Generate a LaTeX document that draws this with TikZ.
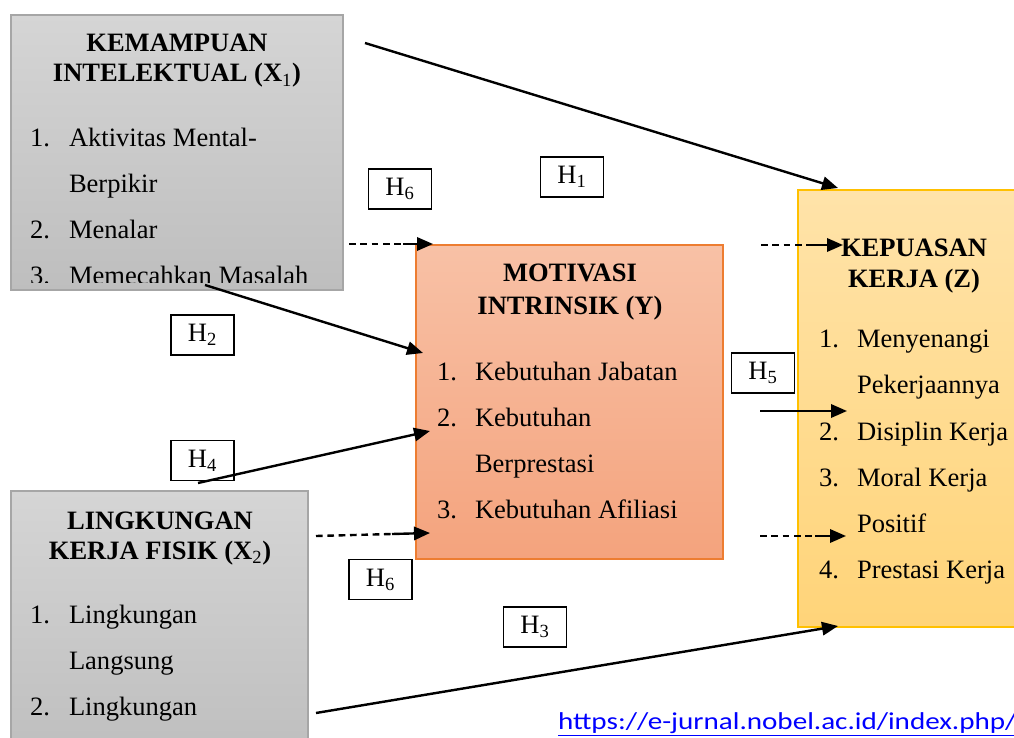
\documentclass[tikz,border=0pt]{standalone}
\usepackage{fontspec}
\setmainfont{Liberation Serif}
\newfontfamily\urlfont{Carlito}
\usetikzlibrary{arrows.meta}
\definecolor{grayT}{HTML}{D5D5D5}
\definecolor{grayB}{HTML}{BEBEBE}
\definecolor{grayE}{HTML}{A6A6A6}
\definecolor{orT}{HTML}{F8C1A6}
\definecolor{orB}{HTML}{F4A37D}
\definecolor{orE}{HTML}{ED7D31}
\definecolor{yeT}{HTML}{FFE3A9}
\definecolor{yeB}{HTML}{FFD479}
\definecolor{yeE}{HTML}{FFC000}
\definecolor{urlblue}{HTML}{0000FF}
\newcommand{\mainsize}{\fontsize{19.9}{24}\selectfont}
\begin{document}
\begin{tikzpicture}[x=0.75pt,y=-0.75pt,
  every node/.style={inner sep=0pt, outer sep=0pt},
  txt/.style={anchor=base west, font=\mainsize},
  ttl/.style={anchor=base, font=\mainsize\bfseries},
  panel/.style={anchor=north west, line width=0.8pt},
  graypanel/.style={panel, draw=grayE, top color=grayT, bottom color=grayB},
  orpanel/.style={panel, draw=orE, top color=orT, bottom color=orB},
  yepanel/.style={panel, draw=yeE, top color=yeT, bottom color=yeB},
  hbox/.style={draw=black, line width=1.1pt, fill=white, minimum width=47pt, minimum height=30pt, font=\mainsize},
  arr/.style={line width=1.8pt, -{Triangle[length=12pt,width=10pt]}},
  dsh/.style={line width=1.8pt, dash pattern=on 5pt off 3.5pt},
]
\useasboundingbox (0,0) rectangle (1014,738);
\clip (0,0) rectangle (1014,738);

% panels
\node[graypanel, minimum width=249pt, minimum height=206.25pt] (X1) at (11,15) {};
\node[orpanel, minimum width=230.25pt, minimum height=235.5pt] (Y) at (416,245) {};
\node[yepanel, minimum width=180pt, minimum height=327.75pt] (Z) at (798,190) {};
\node[graypanel, minimum width=222.75pt, minimum height=201.75pt] (X2) at (11,491) {};

% X1 text (clipped by the text area of its panel)
\begin{scope}
\clip (X1.north west) rectangle (343,282);
\node[ttl] (x1t1) at (177,52) {KEMAMPUAN};
\node[ttl] (x1t2) at (177,82) {INTELEKTUAL (X{\mdseries\textsubscript{1}})};
\node[txt] (x1n1) at (30,146.5) {1.};
\node[txt] (x1i1) at (69,146.5) {Aktivitas Mental-};
\node[txt] (x1i1b) at (69,192.5) {Berpikir};
\node[txt] (x1n2) at (30,238.5) {2.};
\node[txt] (x1i2) at (69,238.5) {Menalar};
\node[txt] (x1n3) at (30,284.5) {3.};
\node[txt] (x1i3) at (69,284.5) {Memecahkan Masalah};
\end{scope}

% Y text
\node[ttl] (yt1) at (570,281) {MOTIVASI};
\node[ttl] (yt2) at (570,314) {INTRINSIK (Y)};
\node[txt] (yn1) at (437,380) {1.};
\node[txt] (yi1) at (475,380) {Kebutuhan Jabatan};
\node[txt] (yn2) at (437,426) {2.};
\node[txt] (yi2) at (475,426) {Kebutuhan};
\node[txt] (yi2b) at (475,472) {Berprestasi};
\node[txt] (yn3) at (437,518) {3.};
\node[txt] (yi3) at (475,518) {Kebutuhan Afiliasi};

% Z text
\node[ttl] (zt1) at (914,256) {KEPUASAN};
\node[ttl] (zt2) at (914,287.5) {KERJA (Z)};
\node[txt] (zn1) at (819,347) {1.};
\node[txt] (zi1) at (857,347) {Menyenangi};
\node[txt] (zi1b) at (857,393) {Pekerjaannya};
\node[txt] (zn2) at (819,440) {2.};
\node[txt] (zi2) at (857,440) {Disiplin Kerja};
\node[txt] (zn3) at (819,486) {3.};
\node[txt] (zi3) at (857,486) {Moral Kerja};
\node[txt] (zi3b) at (857,532) {Positif};
\node[txt] (zn4) at (819,578) {4.};
\node[txt] (zi4) at (857,578) {Prestasi Kerja};

% X2 text
\node[ttl] (x2t1) at (160,529) {LINGKUNGAN};
\node[ttl] (x2t2) at (160,559) {KERJA FISIK (X{\mdseries\textsubscript{2}})};
\node[txt] (x2n1) at (30,623.5) {1.};
\node[txt] (x2i1) at (69,623.5) {Lingkungan};
\node[txt] (x2i1b) at (69,669.5) {Langsung};
\node[txt] (x2n2) at (30,715.5) {2.};
\node[txt] (x2i2) at (69,715.5) {Lingkungan};

% hypothesis labels
\node[hbox] (H6a) at (400,189) {H\textsubscript{6}};
\node[hbox] (H1) at (572,177) {H\textsubscript{1}};
\node[hbox] (H2) at (202.5,335) {H\textsubscript{2}};
\node[hbox] (H4) at (202.5,460.5) {H\textsubscript{4}};
\node[hbox] (H5) at (763,373) {H\textsubscript{5}};
\node[hbox] (H6b) at (380.5,579.5) {H\textsubscript{6}};
\node[hbox] (H3) at (535,627) {H\textsubscript{3}};

% connector end points
\coordinate (a1s) at (365,43);   \coordinate (a1e) at (838,188);
\coordinate (a2s) at (205,285);  \coordinate (a2e) at (423,353);
\coordinate (a4s) at (198,483);  \coordinate (a4e) at (430,431);
\coordinate (a3s) at (316,713);  \coordinate (a3e) at (838,626);
\coordinate (a5s) at (760,411);  \coordinate (a5e) at (847,411);
\coordinate (d1s) at (349,244);  \coordinate (d1m) at (403,244); \coordinate (d1e) at (433,244);
\coordinate (d2s) at (316,536);  \coordinate (d2m) at (392,534); \coordinate (d2e) at (430,533);
\coordinate (d3s) at (761,245);  \coordinate (d3m) at (812,245); \coordinate (d3e) at (843,245);
\coordinate (d4s) at (760,536);  \coordinate (d4m) at (815,536); \coordinate (d4e) at (846,536);

\draw[arr] (a1s) -- (a1e);
\draw[arr] (a2s) -- (a2e);
\draw[arr] (a4s) -- (a4e);
\draw[arr] (a3s) -- (a3e);
\draw[arr] (a5s) -- (a5e);
\draw[dsh] (d1s) -- (d1m); \draw[arr] (d1m) -- (d1e);
\draw[dsh] (d2s) -- (d2m); \draw[arr] (d2m) -- (d2e);
\draw[dsh] (d3s) -- (d3m); \draw[arr] (d3m) -- (d3e);
\draw[dsh] (d4s) -- (d4m); \draw[arr] (d4m) -- (d4e);

% url
\node[anchor=base west, text=urlblue] (url) at (558,729) {\scalebox{1.2}[1]{\urlfont\fontsize{18.2}{20}\selectfont\underline{https://e-jurnal.nobel.ac.id/index.php/}}};
\end{tikzpicture}
\end{document}
